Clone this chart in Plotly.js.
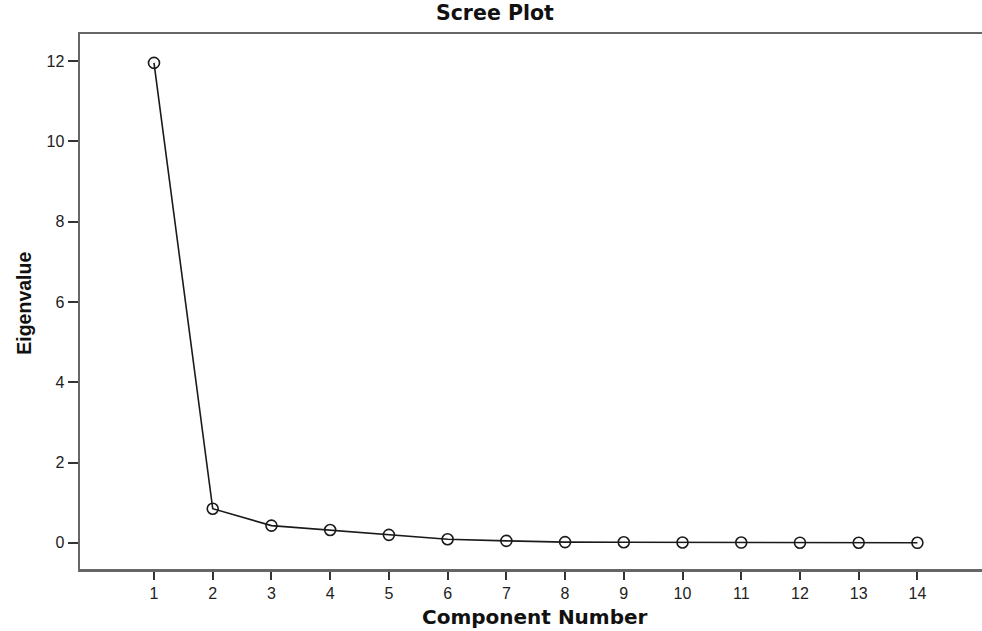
<!DOCTYPE html>
<html>
<head>
<meta charset="utf-8">
<script src="https://cdn.plot.ly/plotly-3.0.1.min.js"></script>
<style>html,body{margin:0;padding:0;background:#fff;}#chart{width:982px;height:631px;}</style>
</head>
<body>
<div id="chart"></div>
<script>
const componentNumbers = [1, 2, 3, 4, 5, 6, 7, 8, 9, 10, 11, 12, 13, 14];
const eigenvalues = [11.95, 0.85, 0.43, 0.32, 0.20, 0.09, 0.05, 0.02, 0.015, 0.01, 0.008, 0.005, 0.003, 0.002];
const yTickValues = [0, 2, 4, 6, 8, 10, 12];

const trace = {
  x: componentNumbers,
  y: eigenvalues,
  type: 'scatter',
  mode: 'lines+markers',
  line: {color: '#1a1a1a', width: 1.6},
  marker: {symbol: 'circle-open', size: 11, color: '#1a1a1a', line: {width: 1.6, color: '#1a1a1a'}},
  hoverinfo: 'x+y',
  showlegend: false
};

const layout = {
  width: 982,
  height: 631,
  margin: {l: 80, r: 0, t: 34, b: 62},
  paper_bgcolor: '#ffffff',
  plot_bgcolor: '#ffffff',
  font: {family: 'Liberation Sans, Arial, sans-serif', size: 16, color: '#222'},
  title: {
    text: '<b>Scree Plot</b>',
    font: {family: 'DejaVu Sans, sans-serif', size: 20.5, color: '#111'},
    x: 0.46, xref: 'paper', xanchor: 'center', y: 0.979, yref: 'container', yanchor: 'middle'
  },
  xaxis: {
    range: [-0.26, 15.1],
    tickmode: 'array',
    tickvals: componentNumbers,
    ticktext: componentNumbers.map(String),
    ticks: 'outside', ticklen: 8, tickwidth: 2, tickcolor: '#333',
    showline: true, linecolor: '#666', linewidth: 2.5, mirror: true,
    showgrid: false, zeroline: false,
    tickfont: {size: 16, color: '#222'}
  },
  yaxis: {
    range: [-0.65, 12.67],
    tickmode: 'array',
    tickvals: yTickValues,
    ticks: 'outside', ticklen: 10, tickwidth: 2, tickcolor: '#333',
    showline: true, linecolor: '#666', linewidth: 2.5, mirror: false,
    showgrid: false, zeroline: false,
    tickfont: {size: 16, color: '#222'}
  },
  annotations: [
    {text: '<b>Component Number</b>', xref: 'paper', yref: 'paper', x: 0.504, y: -0.0897,
     xanchor: 'center', yanchor: 'middle', showarrow: false,
     font: {family: 'DejaVu Sans, sans-serif', size: 20, color: '#111'}},
    {text: '<b>Eigenvalue</b>', xref: 'paper', yref: 'paper', x: -0.062, y: 0.496,
     xanchor: 'center', yanchor: 'middle', showarrow: false, textangle: -90,
     font: {family: 'Liberation Sans, Arial, sans-serif', size: 19.5, color: '#111'}}
  ]
};

Plotly.newPlot('chart', [trace], layout, {displayModeBar: false, staticPlot: true});
</script>
</body>
</html>
